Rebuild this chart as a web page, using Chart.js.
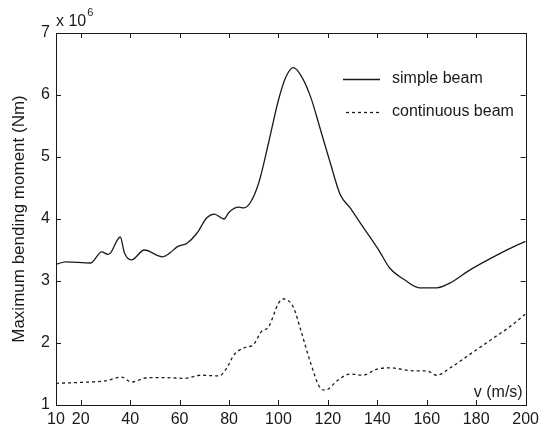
<!DOCTYPE html>
<html>
<head>
<meta charset="utf-8">
<script src="https://cdn.jsdelivr.net/npm/chart.js@4"></script>
<style>
  html, body { margin: 0; padding: 0; background: #fff; }
  #wrap { width: 544px; height: 430px; }
</style>
</head>
<body>
<div id="wrap"><canvas id="beamChart" width="544" height="430"></canvas></div>
<script>
// speeds v (m/s) and maximum bending moment, in units of 10^6 Nm
const simpleV = [10, 14, 24, 28.5, 31, 32, 36, 37.7, 40.5, 45.7, 53, 56, 59, 63, 67, 71, 74, 78, 80, 84, 86, 88.7, 92, 96, 100, 103, 106, 109, 113, 117, 121, 125, 129, 133, 137, 141, 145, 151, 157, 164, 169.5, 177.5, 187, 195, 200];
const simpleM = [3.27, 3.31, 3.29, 3.47, 3.43, 3.45, 3.71, 3.45, 3.34, 3.50, 3.39, 3.45, 3.55, 3.61, 3.77, 4.02, 4.08, 4.00, 4.11, 4.19, 4.18, 4.27, 4.58, 5.23, 5.92, 6.29, 6.44, 6.32, 5.97, 5.44, 4.90, 4.39, 4.18, 3.94, 3.71, 3.47, 3.21, 3.02, 2.89, 2.89, 2.97, 3.18, 3.39, 3.55, 3.64];

const contV = [10, 23, 30, 36.5, 40.5, 47, 55, 62, 68.6, 76, 79, 82, 86, 90, 93, 96, 100, 102, 106, 109, 113, 117, 119, 124, 129, 134, 140, 145, 155, 160, 164, 169.5, 179, 187, 193.5, 200];
const contM = [1.35, 1.37, 1.39, 1.45, 1.37, 1.44, 1.44, 1.43, 1.48, 1.47, 1.59, 1.81, 1.92, 1.98, 2.18, 2.26, 2.64, 2.71, 2.58, 2.21, 1.68, 1.27, 1.24, 1.40, 1.50, 1.48, 1.58, 1.60, 1.55, 1.55, 1.48, 1.60, 1.86, 2.08, 2.26, 2.47];

const xTicks = [10, 20, 40, 60, 80, 100, 120, 140, 160, 180, 200];
const yTicks = [1, 2, 3, 4, 5, 6, 7];
const seriesNames = ['simple beam', 'continuous beam'];

const FONT = '"Liberation Sans", Arial, sans-serif';
const INK = '#1a1a1a';

function toPoints(xs, ys){ return xs.map((x, i) => ({ x: x, y: ys[i] })); }

// box, inward ticks, x10^6 label, v (m/s) label and legend
const matlabFrame = {
  id: 'matlabFrame',
  afterDraw(chart){
    const { ctx, chartArea: a, scales } = chart;
    ctx.save();
    ctx.strokeStyle = INK;
    ctx.lineWidth = 1;
    ctx.strokeRect(Math.round(a.left) + 0.5, Math.round(a.top) + 0.5,
      Math.round(a.right - a.left), Math.round(a.bottom - a.top));

    const tl = 5;
    ctx.beginPath();
    xTicks.forEach(t => {
      const px = Math.round(scales.x.getPixelForValue(t)) + 0.5;
      ctx.moveTo(px, a.bottom); ctx.lineTo(px, a.bottom - tl);
      ctx.moveTo(px, a.top); ctx.lineTo(px, a.top + tl);
    });
    yTicks.forEach(t => {
      const py = Math.round(scales.y.getPixelForValue(t)) + 0.5;
      ctx.moveTo(a.left, py); ctx.lineTo(a.left + tl, py);
      ctx.moveTo(a.right, py); ctx.lineTo(a.right - tl, py);
    });
    ctx.stroke();

    // exponent label
    ctx.fillStyle = INK;
    ctx.textBaseline = 'alphabetic';
    ctx.textAlign = 'left';
    ctx.font = '16px ' + FONT;
    ctx.fillText('x 10', a.left, a.top - 7);
    const w = ctx.measureText('x 10').width;
    ctx.font = '11px ' + FONT;
    ctx.fillText('6', a.left + w + 1, a.top - 17);

    // axis label inside the box
    ctx.font = '16px ' + FONT;
    ctx.textAlign = 'right';
    ctx.fillText('v (m/s)', a.right - 3, a.bottom - 8);

    // legend
    const lx0 = 343, lx1 = 380, tx = 392;
    const rows = [79, 112];
    chart.data.datasets.forEach((ds, i) => {
      ctx.beginPath();
      ctx.lineWidth = ds.borderWidth;
      ctx.strokeStyle = ds.borderColor;
      ctx.setLineDash(ds.borderDash || []);
      ctx.moveTo(lx0 + (i ? 3 : 0), rows[i] + 0.5);
      ctx.lineTo(lx1, rows[i] + 0.5);
      ctx.stroke();
      ctx.setLineDash([]);
      ctx.textAlign = 'left';
      ctx.textBaseline = 'middle';
      ctx.fillText(ds.label, tx, rows[i]);
    });
    ctx.restore();
  }
};

new Chart(document.getElementById('beamChart').getContext('2d'), {
  type: 'line',
  data: {
    datasets: [
      {
        label: seriesNames[0],
        data: toPoints(simpleV, simpleM),
        borderColor: INK,
        borderWidth: 1.3,
        pointRadius: 0,
        tension: 0.35,
        cubicInterpolationMode: 'monotone',
        fill: false
      },
      {
        label: seriesNames[1],
        data: toPoints(contV, contM),
        borderColor: INK,
        borderWidth: 1.3,
        borderDash: [3, 3],
        pointRadius: 0,
        tension: 0.35,
        cubicInterpolationMode: 'monotone',
        fill: false
      }
    ]
  },
  options: {
    responsive: false,
    animation: false,
    layout: { padding: { top: 33, right: 15, left: 0, bottom: 0 } },
    plugins: { legend: { display: false }, tooltip: { enabled: false } },
    scales: {
      x: {
        type: 'linear',
        min: 10, max: 200,
        afterBuildTicks: s => { s.ticks = xTicks.map(v => ({ value: v })); },
        afterFit: s => { s.height = 25; },
        grid: { display: false, drawTicks: false },
        border: { display: false },
        ticks: { color: INK, font: { family: FONT, size: 16 }, padding: 5, maxRotation: 0, autoSkip: false }
      },
      y: {
        min: 1, max: 7,
        afterBuildTicks: s => { s.ticks = yTicks.map(v => ({ value: v })); },
        afterFit: s => { s.width = 56; },
        grid: { display: false, drawTicks: false },
        border: { display: false },
        ticks: { color: INK, font: { family: FONT, size: 16 }, padding: 6 },
        title: {
          display: true,
          text: 'Maximum bending moment (Nm)',
          color: INK,
          font: { family: FONT, size: 17 },
          padding: { top: 9, bottom: 0 }
        }
      }
    }
  },
  plugins: [matlabFrame]
});
</script>
</body>
</html>
